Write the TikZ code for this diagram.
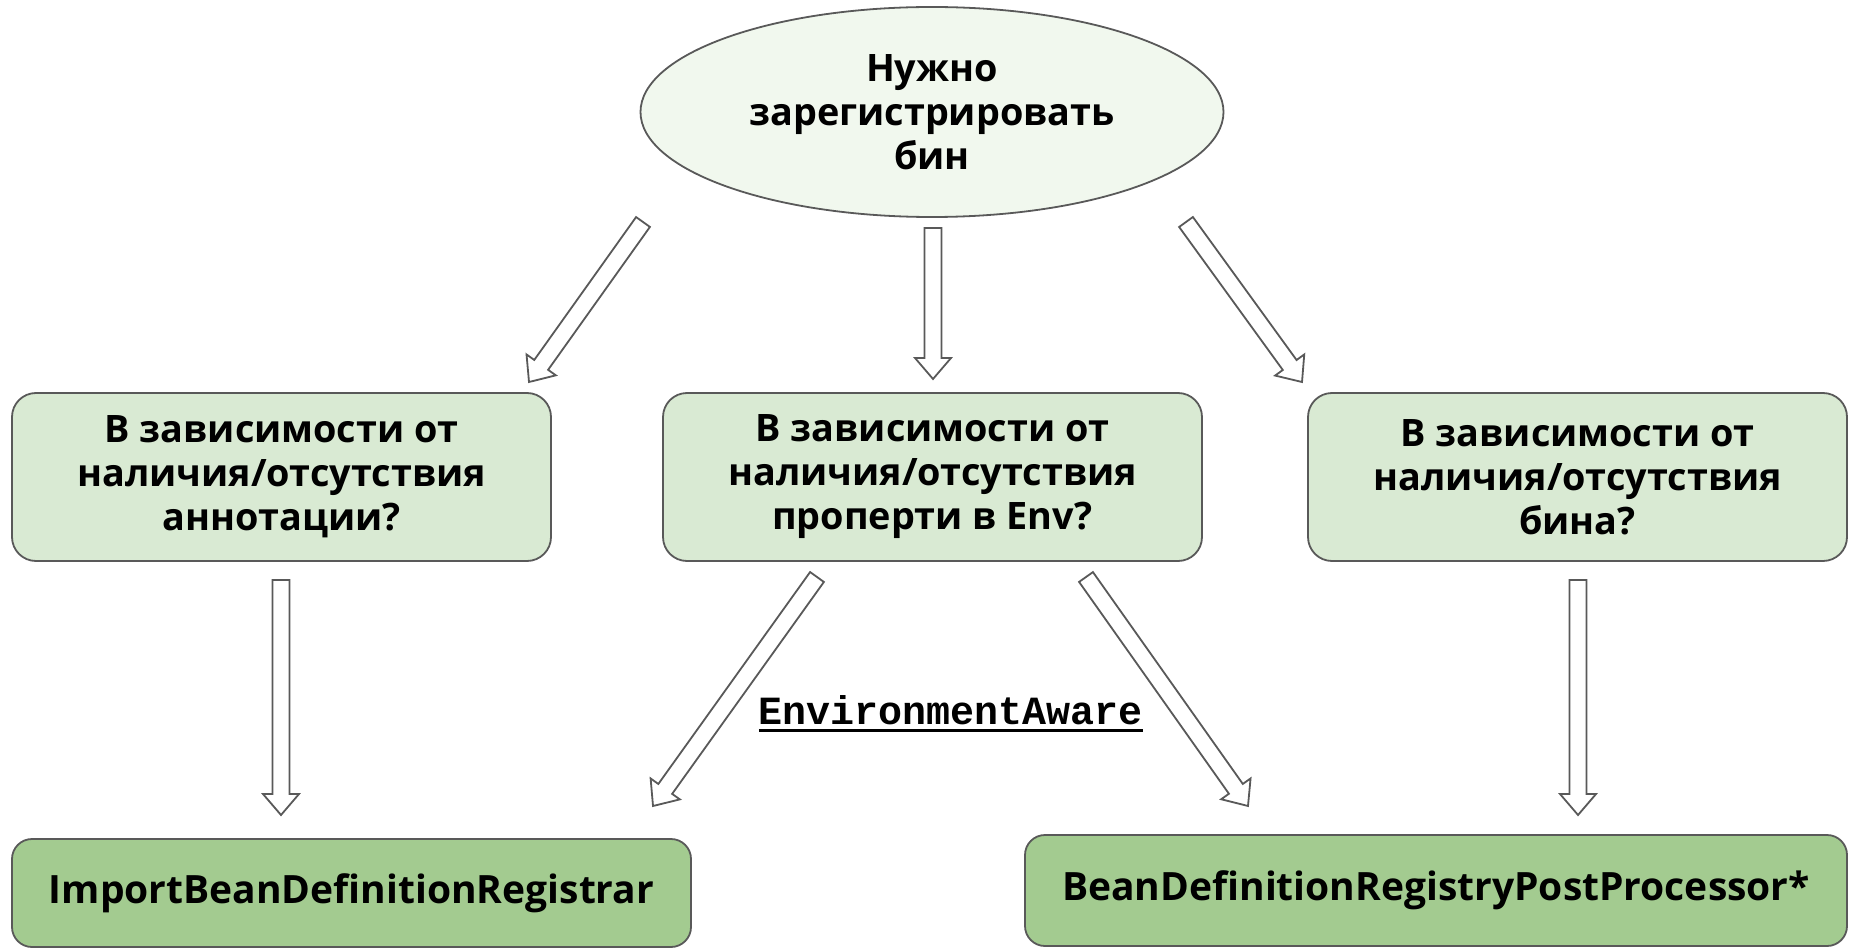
\documentclass[tikz,border=0pt]{standalone}
\usepackage{fontspec}
\setmainfont{Open Sans}
\newfontfamily\codefont{Liberation Mono}
\usetikzlibrary{calc,shapes.geometric}

\definecolor{edgegray}{HTML}{595959}
\definecolor{startfill}{HTML}{F1F8EE}
\definecolor{askfill}{HTML}{D9EAD3}
\definecolor{answerfill}{HTML}{A3CB90}

% underlined code word
\newcommand\codeul[1]{\setbox0\hbox{#1}\rlap{\rule[-8pt]{\wd0}{3pt}}\box0}

% hollow block arrow from one named coordinate to another
\newcommand\hollowarrow[2]{%
  \path let \p1=($(#2)-(#1)$), \n1={atan2(\y1,\x1)}, \n2={veclen(\x1,\y1)} in
    \pgfextra{\xdef\harot{\n1}\xdef\halen{\n2}};
  \draw[blockarrow,shift={(#1)},rotate=\harot]
    (0,-8.5) -- (\halen-21,-8.5) -- (\halen-21,-18) -- (\halen,0)
    -- (\halen-21,18) -- (\halen-21,8.5) -- (0,8.5) -- cycle;
}

\begin{document}
\begin{tikzpicture}[x=1pt,y=1pt,
  txt/.style={font=\bfseries\fontsize{37.8}{44}\selectfont, align=center, text=black},
  bigtxt/.style={font=\bfseries\fontsize{39}{44}\selectfont, align=center, text=black},
  startnode/.style={ellipse, draw=edgegray, line width=1.8, fill=startfill,
    minimum width=583, minimum height=210, inner sep=0, txt},
  asknode/.style={rectangle, rounded corners=24, draw=edgegray, line width=1.8,
    fill=askfill, minimum width=539, minimum height=168, inner sep=0, txt},
  answernode/.style={rectangle, rounded corners=20, draw=edgegray, line width=1.8,
    fill=answerfill, inner sep=0, bigtxt},
  blockarrow/.style={draw=edgegray, line width=1.8, fill=white, line join=miter}]
\useasboundingbox (0,0) rectangle (1851,-949);

\node[startnode] (start) at (932,-112) {Нужно\\зарегистрировать\\бин};

\node[asknode] (annot) at (281.5,-477) {В зависимости от\\наличия/отсутствия\\аннотации?};
\node[asknode] (prop) at (932.5,-477) {В зависимости от\\наличия/отсутствия\\проперти в Env?};
\node[asknode] (bean) at (1577.5,-477) {В зависимости от\\наличия/отсутствия\\бина?};

\node[answernode, minimum width=679, minimum height=108] (ibdr) at (351.5,-893)
  {ImportBeanDefinitionRegistrar};
\node[answernode, minimum width=822, minimum height=111] (bdrpp) at (1436,-890.5)
  {BeanDefinitionRegistryPostProcessor*};

\node[font=\codefont\bfseries\fontsize{40}{44}\selectfont] (envaware) at (951,-714)
  {\codeul{EnvironmentAware}};

% arrow ends
\coordinate (s1) at (643,-222);  \coordinate (t1) at (529,-382);
\coordinate (s2) at (933,-228);  \coordinate (t2) at (933,-379);
\coordinate (s3) at (1186,-222); \coordinate (t3) at (1302,-382);
\coordinate (s4) at (281,-580);  \coordinate (t4) at (281,-815);
\coordinate (s5) at (817,-577);  \coordinate (t5) at (653,-806);
\coordinate (s6) at (1086,-577); \coordinate (t6) at (1248,-806);
\coordinate (s7) at (1578,-580); \coordinate (t7) at (1578,-815);

\hollowarrow{s1}{t1}
\hollowarrow{s2}{t2}
\hollowarrow{s3}{t3}
\hollowarrow{s4}{t4}
\hollowarrow{s5}{t5}
\hollowarrow{s6}{t6}
\hollowarrow{s7}{t7}
\end{tikzpicture}
\end{document}
